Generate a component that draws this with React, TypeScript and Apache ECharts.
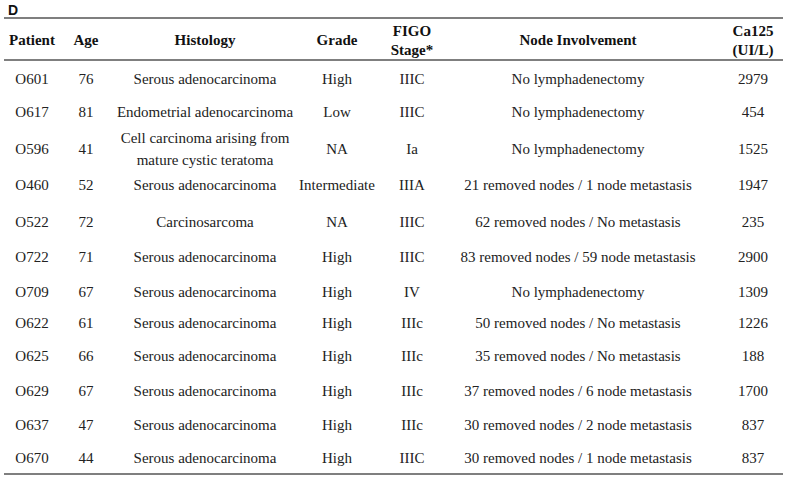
import React, { useEffect, useRef } from "react";
import * as echarts from "echarts";

const headers = ["Patient", "Age", "Histology", "Grade", "FIGO\nStage*", "Node Involvement", "Ca125\n(UI/L)"];
const patients = ["O601", "O617", "O596", "O460", "O522", "O722", "O709", "O622", "O625", "O629", "O637", "O670"];
const ages = ["76", "81", "41", "52", "72", "71", "67", "61", "66", "67", "47", "44"];
const histology = [
  "Serous adenocarcinoma",
  "Endometrial adenocarcinoma",
  "Cell carcinoma arising from\nmature cystic teratoma",
  "Serous adenocarcinoma",
  "Carcinosarcoma",
  "Serous adenocarcinoma",
  "Serous adenocarcinoma",
  "Serous adenocarcinoma",
  "Serous adenocarcinoma",
  "Serous adenocarcinoma",
  "Serous adenocarcinoma",
  "Serous adenocarcinoma",
];
const grades = ["High", "Low", "NA", "Intermediate", "NA", "High", "High", "High", "High", "High", "High", "High"];
const stages = ["IIIC", "IIIC", "Ia", "IIIA", "IIIC", "IIIC", "IV", "IIIc", "IIIc", "IIIc", "IIIc", "IIIC"];
const nodes = [
  "No lymphadenectomy",
  "No lymphadenectomy",
  "No lymphadenectomy",
  "21 removed nodes / 1 node metastasis",
  "62 removed nodes / No metastasis",
  "83 removed nodes / 59 node metastasis",
  "No lymphadenectomy",
  "50 removed nodes / No metastasis",
  "35 removed nodes / No metastasis",
  "37 removed nodes / 6 node metastasis",
  "30 removed nodes / 2 node metastasis",
  "30 removed nodes / 1 node metastasis",
];
const ca125 = ["2979", "454", "1525", "1947", "235", "2900", "1309", "1226", "188", "1700", "837", "837"];

const colX = [32, 86, 205, 337, 412, 578, 753];
const rowY = [79, 112, 149, 185, 222, 257, 292, 323, 356, 391, 425, 458];

export default function App() {
  const ref = useRef<HTMLDivElement>(null);
  useEffect(() => {
    const chart = echarts.init(ref.current!, null, { renderer: "svg" });
    const font = "Liberation Serif";
    const color = "#222";
    const elements: any[] = [];
    elements.push({
      type: "text",
      x: 8,
      y: 10,
      style: { text: "D", fontFamily: "Arial", fontWeight: "bold", fontSize: 14, fill: "#111", verticalAlign: "middle" },
    });
    const lineStyle = { stroke: "#555", lineWidth: 1.5 };
    elements.push({ type: "line", shape: { x1: 4, y1: 18, x2: 783, y2: 18 }, style: lineStyle });
    elements.push({ type: "line", shape: { x1: 4, y1: 60, x2: 783, y2: 60 }, style: lineStyle });
    elements.push({ type: "line", shape: { x1: 4, y1: 474, x2: 783, y2: 474 }, style: lineStyle });
    headers.forEach((h, i) => {
      elements.push({
        type: "text",
        x: colX[i],
        y: 40,
        style: {
          text: h,
          fontFamily: font,
          fontWeight: "bold",
          fontSize: 15,
          fill: "#111",
          align: "center",
          verticalAlign: "middle",
          lineHeight: 19,
        },
      });
    });
    const columns = [patients, ages, histology, grades, stages, nodes, ca125];
    columns.forEach((col, ci) => {
      col.forEach((val, ri) => {
        elements.push({
          type: "text",
          x: colX[ci],
          y: rowY[ri],
          style: {
            text: val,
            fontFamily: font,
            fontSize: 15,
            fill: color,
            align: "center",
            verticalAlign: "middle",
            lineHeight: 22,
          },
        });
      });
    });
    chart.setOption({ animation: false, graphic: elements });
    return () => chart.dispose();
  }, []);
  return <div ref={ref} style={{ width: 786, height: 478, position: "absolute", left: 0, top: 0, background: "#fff" }} />;
}
